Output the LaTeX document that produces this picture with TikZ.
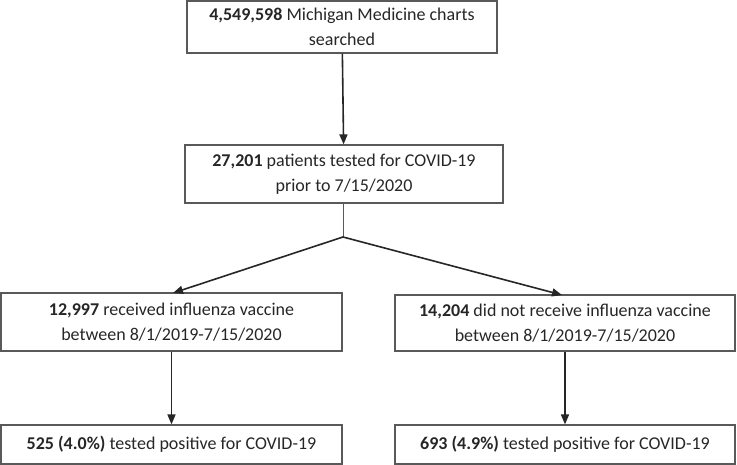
\documentclass[tikz,border=0pt]{standalone}
\usepackage{fontspec}
\setmainfont{Carlito}
\usetikzlibrary{arrows.meta, positioning}
\definecolor{boxline}{HTML}{595959}
\definecolor{textdark}{HTML}{262626}
\tikzstyle{stagebox} = [rectangle, draw=boxline, line width=1.2pt, align=center, inner sep=0pt, text=textdark, font=\fontsize{18}{24.5}\selectfont]
\tikzstyle{arrow} = [line width=1.6pt, -{Triangle[length=10pt, width=8pt]}, color=textdark]

\begin{document}
\begin{tikzpicture}[x=1pt, y=-1pt]
    \useasboundingbox (0,0) rectangle (737,465);
    \node[stagebox, minimum width=310pt, minimum height=52pt] (charts) at (342,27) {\textbf{4,549,598} Michigan Medicine charts\\searched};
    \node[stagebox, minimum width=318pt, minimum height=58pt] (tested) at (344,174) {\textbf{27,201} patients tested for COVID-19\\prior to 7/15/2020};
    \node[stagebox, minimum width=341pt, minimum height=58pt] (vacc) at (171.5,322) {\textbf{12,997} received influenza vaccine\\between 8/1/2019-7/15/2020};
    \node[stagebox, minimum width=340pt, minimum height=56pt] (novacc) at (565,323) {\textbf{14,204} did not receive influenza vaccine\\between 8/1/2019-7/15/2020};
    \node[stagebox, minimum width=341pt, minimum height=39pt] (posvacc) at (171.5,444.5) {\textbf{525 (4.0\%)} tested positive for COVID-19};
    \node[stagebox, minimum width=340pt, minimum height=39pt] (posnovacc) at (565,444.5) {\textbf{693 (4.9\%)} tested positive for COVID-19};
    \coordinate (split) at (343,237);

    \draw[arrow] (charts) -- (tested);
    \draw[line width=0.8pt, boxline] (tested.south -| split) -- (split);
    \draw[arrow] (split) -- (173,293);
    \draw[arrow] (split) -- (562,295);
    \draw[arrow] (vacc.south) -- (posvacc.north);
    \draw[arrow] (novacc.south) -- (posnovacc.north);
\end{tikzpicture}
\end{document}
